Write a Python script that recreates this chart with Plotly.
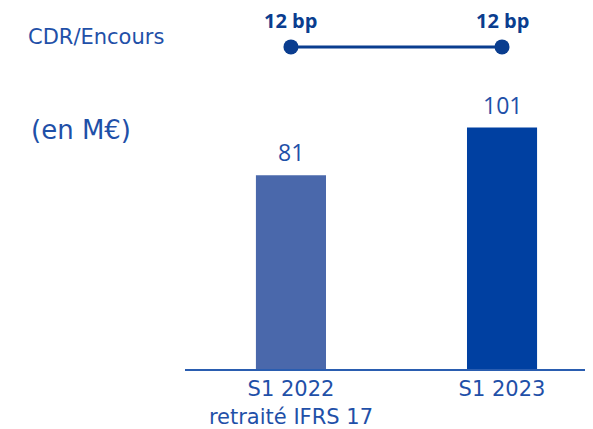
import plotly.graph_objects as go

# data
categories = ["S1 2022<br>retraité IFRS 17", "S1 2023"]
cdr_values = [81, 101]
ratio_bp = [12, 12]
ratio_labels = ["12 bp", "12 bp"]
bar_colors = ["#4a68ab", "#0040a1"]

text_color = "#1f50a8"
dark_blue = "#0a3d8f"
font_family = "Open Sans"
wide_font = "DejaVu Sans"

# the page adds an 8px body margin, so the figure is 8px smaller
W, H = 585, 421
plot_h = 361

fig = go.Figure()

# bars
fig.add_trace(go.Bar(
    x=categories,
    y=cdr_values,
    marker=dict(color=bar_colors, line=dict(width=0)),
    width=0.332,
    showlegend=False,
    hoverinfo="skip",
))

# CDR/Encours line on a second axis
fig.add_trace(go.Scatter(
    x=categories,
    y=ratio_bp,
    yaxis="y2",
    mode="lines+markers",
    line=dict(color=dark_blue, width=3),
    marker=dict(color=dark_blue, size=15),
    showlegend=False,
    hoverinfo="skip",
))

annotations = []
for cat, val in zip(categories, cdr_values):
    annotations.append(dict(
        x=cat, y=val, xref="x", yref="y",
        text=str(val), showarrow=False,
        yanchor="bottom", yshift=5,
        font=dict(size=23, color=text_color, family=font_family),
    ))
for cat, val, lab in zip(categories, ratio_bp, ratio_labels):
    annotations.append(dict(
        x=cat, y=val, xref="x", yref="y2",
        text="<b>" + lab + "</b>", showarrow=False,
        yanchor="middle", yshift=26,
        font=dict(size=20, color=dark_blue, family=font_family),
    ))

annotations.append(dict(
    x=-0.39, y=1 - 29 / plot_h, xref="paper", yref="paper",
    text="CDR/Encours", showarrow=False, xanchor="left", yanchor="middle",
    font=dict(size=21, color=text_color, family=wide_font),
))
annotations.append(dict(
    x=-0.382, y=1 - 122 / plot_h, xref="paper", yref="paper",
    text="(en M€)", showarrow=False, xanchor="left", yanchor="middle",
    font=dict(size=26, color=text_color, family=wide_font),
))

fig.update_layout(
    width=W,
    height=H,
    margin=dict(l=177, r=0, t=0, b=H - plot_h, autoexpand=False),
    paper_bgcolor="white",
    plot_bgcolor="white",
    font=dict(family=font_family, color=text_color),
    xaxis=dict(
        type="category",
        range=[-0.502, 1.431],
        showgrid=False,
        showline=True,
        linecolor="#2a5db0",
        linewidth=2,
        ticks="",
        tickfont=dict(size=21, color=text_color, family=wide_font),
        automargin=False,
        fixedrange=True,
    ),
    yaxis=dict(
        range=[0, 151.0],
        visible=False,
        fixedrange=True,
    ),
    yaxis2=dict(
        range=[0, 13.45],
        overlaying="y",
        visible=False,
        fixedrange=True,
    ),
    annotations=annotations,
)

fig.write_html("out.html")
